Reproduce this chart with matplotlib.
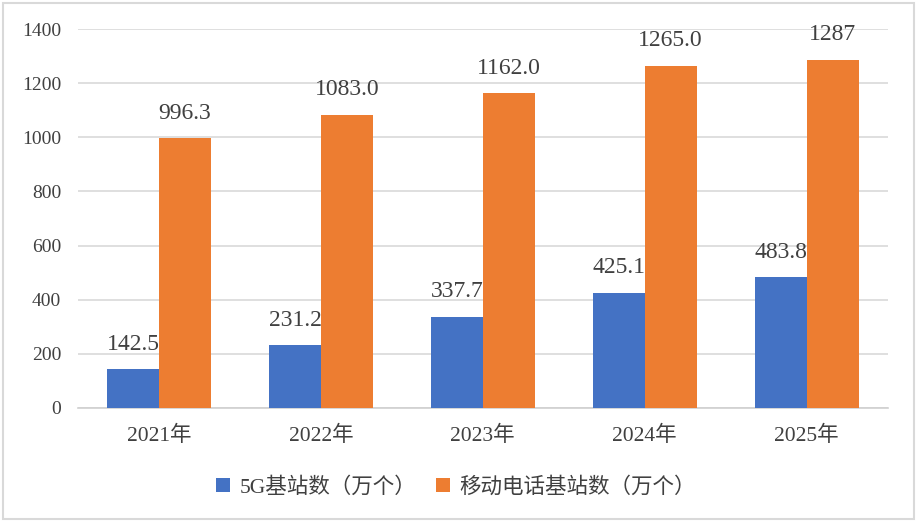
import matplotlib
matplotlib.use("Agg")
import matplotlib.pyplot as plt
import numpy as np
from matplotlib.patches import Rectangle

years = ["2021年", "2022年", "2023年", "2024年", "2025年"]
base_5g = [142.5, 231.2, 337.7, 425.1, 483.8]
base_mobile = [996.3, 1083.0, 1162.0, 1265.0, 1287]
labels_5g = ["142.5", "231.2", "337.7", "425.1", "483.8"]
labels_mobile = ["996.3", "1083.0", "1162.0", "1265.0", "1287"]
series_names = ["5G基站数（万个）", "移动电话基站数（万个）"]

FONT = ["Liberation Serif", "Noto Sans CJK SC"]
plt.rcParams["font.family"] = FONT
BLUE = "#4472C4"
ORANGE = "#ED7D31"
TEXT = "#404040"

fig = plt.figure(figsize=(9.17, 5.22), dpi=100)
ax = fig.add_axes([0.085, 0.2184, 0.883, 0.726])

x = np.arange(len(years))
w = 0.32
b1 = ax.bar(x - w / 2, base_5g, w, color=BLUE, label=series_names[0], zorder=3)
b2 = ax.bar(x + w / 2, base_mobile, w, color=ORANGE, label=series_names[1], zorder=3)

for bars, labs in ((b1, labels_5g), (b2, labels_mobile)):
    for rect, lab in zip(bars, labs):
        ax.annotate(lab, (rect.get_x() + rect.get_width() / 2, rect.get_height()),
                    xytext=(0, 18), textcoords="offset points",
                    ha="center", va="center", fontsize=17, color=TEXT)

ax.set_xlim(-0.5, len(years) - 0.5)
ax.set_ylim(0, 1400)
ax.set_yticks(np.arange(0, 1401, 200))
ax.set_xticks(x)
ax.set_xticklabels(years)
ax.tick_params(axis="both", length=0, labelsize=14, colors=TEXT)
ax.tick_params(axis="x", pad=13, labelsize=15.5)
ax.tick_params(axis="y", pad=12)
ax.grid(axis="y", color="#d9d9d9", linewidth=1.2, zorder=0)
for s in ("top", "right", "left"):
    ax.spines[s].set_visible(False)
ax.spines["bottom"].set_color("#d0d0d0")
ax.spines["bottom"].set_linewidth(1.2)

fig.legend(handles=[b1, b2], loc="center", bbox_to_anchor=(0.497, 1 - 487 / 522),
           ncol=2, frameon=False, fontsize=15.5, handlelength=0.65, handleheight=0.65,
           handletextpad=0.45, columnspacing=0.9, labelcolor=TEXT)

fig.patches.append(Rectangle((0.003, 0.005), 0.994, 0.99, transform=fig.transFigure,
                             fill=False, edgecolor="#d9d9d9", linewidth=1.5))

fig.savefig("out.png", dpi=100)
